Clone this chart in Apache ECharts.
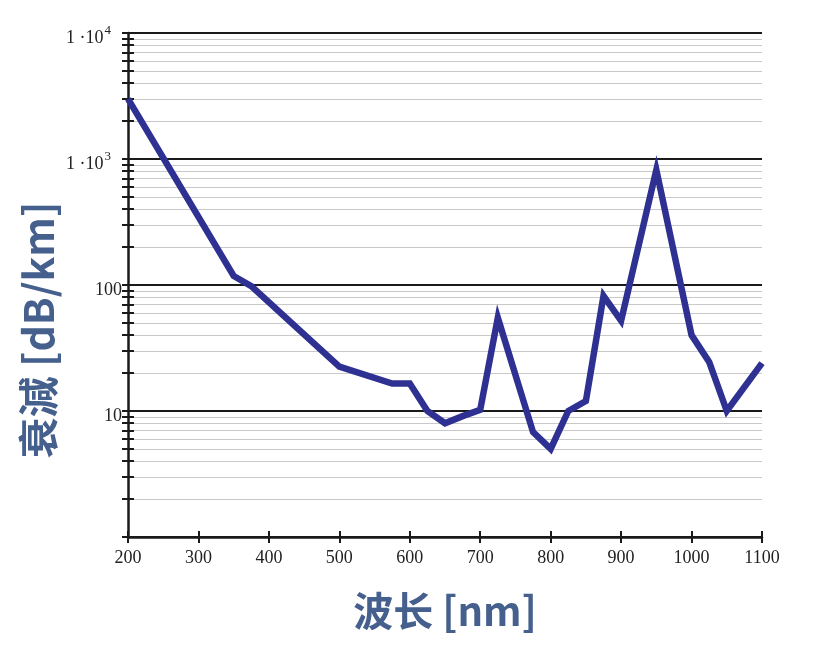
<!DOCTYPE html>
<html>
<head>
<meta charset="utf-8">
<script src="https://cdn.jsdelivr.net/npm/echarts@6/dist/echarts.min.js"></script>
<style>html,body{margin:0;padding:0;background:#fff}#c{width:825px;height:665px}</style>
</head>
<body>
<div id="c"></div>
<script>
var wavelengths = [200, 350, 375, 500, 575, 600, 625, 650, 675, 700, 725, 775, 800, 825, 850, 875, 900, 950, 1000, 1025, 1050, 1100];
var attenuation = [3000, 118, 98, 22.5, 16.5, 16.5, 10, 8, 9.1, 10.2, 55, 6.8, 5, 10, 12, 82, 52, 820, 40, 24.5, 10, 24];
var xTicks = [200, 300, 400, 500, 600, 700, 800, 900, 1000, 1100];
var majorY = [1, 10, 100, 1000, 10000];
var minorY = [2,3,4,5,6,7,8,9,20,30,40,50,60,70,80,90,200,300,400,500,600,700,800,900,2000,3000,4000,5000,6000,7000,8000,9000];
var yLabelMap = {10: '{b|10}', 100: '{b|100}', 1000: '{b|1 ·10}{s|3}', 10000: '{b|1 ·10}{s|4}'};
var xTitle = '波长 [nm]';
var yTitle = '衰減 [dB/km]';

var chart = echarts.init(document.getElementById('c'), null, {renderer: 'canvas'});
var serif = 'Liberation Serif, Times New Roman, serif';
var titleColor = '#46608e';

function yAx(extra) {
  return Object.assign({
    type: 'log', logBase: 10, min: 1, max: 10000, position: 'left', offset: 0,
    axisLine: {show: false}, axisLabel: {show: false}, axisTick: {show: false},
    splitLine: {show: false}, minorTick: {show: false}
  }, extra);
}

var option = {
  animation: false,
  grid: {left: 128, right: 63, top: 33, bottom: 128},
  xAxis: [{
    type: 'value', min: 200, max: 1100, interval: 100, position: 'bottom',
    axisLine: {show: true, lineStyle: {color: '#1a1a1a', width: 2.5}},
    axisTick: {show: true, length: 6, lineStyle: {color: '#1a1a1a', width: 2}},
    axisLabel: {show: true, margin: 12, color: '#222', fontFamily: serif, fontSize: 18,
      customValues: xTicks, formatter: function (v) { return String(v); }},
    splitLine: {show: false}
  }, {
    type: 'value', min: 200, max: 1100, interval: 100, position: 'bottom',
    axisLine: {show: false},
    axisTick: {show: true, inside: true, length: 6, lineStyle: {color: '#1a1a1a', width: 2}},
    axisLabel: {show: false}, splitLine: {show: false}
  }],
  yAxis: [
    yAx({
      axisLine: {show: true, lineStyle: {color: '#1a1a1a', width: 2.5}},
      axisTick: {show: true, length: 6, lineStyle: {color: '#1a1a1a', width: 2}, customValues: majorY},
      splitLine: {show: true, lineStyle: {color: '#1a1a1a', width: 2}},
      axisLabel: {show: true, margin: 6, customValues: [10, 100, 1000, 10000],
        formatter: function (v) { return yLabelMap[Math.round(v)] || ''; },
        padding: [11, 0, 0, 0],
        rich: {
          b: {fontFamily: serif, fontSize: 18, color: '#222'},
          s: {fontFamily: serif, fontSize: 13, color: '#222', verticalAlign: 'bottom', padding: [0, 11, 15, 1]}
        }
      }
    }),
    yAx({
      axisTick: {show: true, inside: true, length: 6, lineStyle: {color: '#1a1a1a', width: 2}, customValues: majorY}
    }),
    yAx({
      axisTick: {show: true, length: 6, lineStyle: {color: '#1a1a1a', width: 2}, customValues: minorY},
      splitLine: {show: true, lineStyle: {color: '#c9c9c9', width: 1.2}}
    }),
    yAx({
      axisTick: {show: true, inside: true, length: 6, lineStyle: {color: '#1a1a1a', width: 2}, customValues: minorY}
    })
  ],
  series: [{
    type: 'line',
    xAxisIndex: 0, yAxisIndex: 0,
    data: wavelengths.map(function (w, i) { return [w, attenuation[i]]; }),
    showSymbol: false, symbol: 'none',
    lineStyle: {color: '#2e3192', width: 6.5, join: 'miter'},
    z: 10
  }],
  graphic: [{
    type: 'text', x: 445, y: 611,
    style: {text: xTitle, fontSize: 40, fontWeight: 'bold', fontFamily: 'Noto Sans CJK SC, Noto Sans, sans-serif', fill: titleColor, align: 'center', verticalAlign: 'middle'}
  }, {
    type: 'text', x: 38, y: 330, rotation: Math.PI / 2,
    style: {text: yTitle, fontSize: 41, fontWeight: 'bold', fontFamily: 'Noto Sans CJK SC, Noto Sans, sans-serif', fill: titleColor, align: 'center', verticalAlign: 'middle'}
  }]
};
chart.setOption(option);
</script>
</body>
</html>
